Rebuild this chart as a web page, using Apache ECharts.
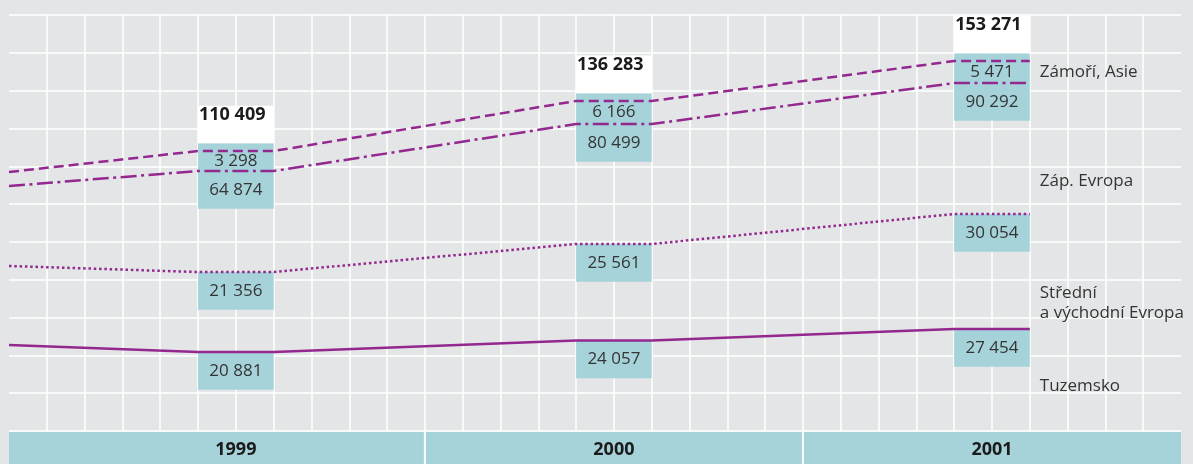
<!DOCTYPE html>
<html><head><meta charset="utf-8">
<script src="https://cdn.jsdelivr.net/npm/echarts@6/dist/echarts.min.js"></script>
<style>html,body{margin:0;padding:0;background:#e4e5e7;} #c{width:1193px;height:464px;}</style>
</head><body><div id="c"></div>
<script>
// ---- data ----
const years = ['1999', '2000', '2001'];
const tuzemsko = [20881, 24057, 27454];
const stredniVychodni = [21356, 25561, 30054];
const zapEvropa = [64874, 80499, 90292];
const zamoriAsie = [3298, 6166, 5471];
const totals = [110409, 136283, 153271];
const seriesNames = ['Zámoří, Asie', 'Záp. Evropa', 'Střední\na východní Evropa', 'Tuzemsko'];
// levels at which the lines are drawn on the chart's schematic vertical scale (mil. Kč),
// read from the picture; first value = where the line enters at the left edge, then 1999, 2000, 2001
const levelTuzemsko = [22740, 20890, 23930, 26970];
const levelStredni = [43630, 42040, 49450, 57380];
const levelZapEvropa = [64780, 68750, 81170, 92010];
const levelZamori = [68480, 74030, 87260, 97830];

// ---- layout / style ----
const PURPLE = '#93288f';
const TEAL = '#a6d3da';
const TXT = '#343434';
const FONT = '"Open Sans", "Noto Sans", sans-serif';
const ROW = 10000;
const colOf = i => 6 + 10 * i;
const fmt = n => String(n).replace(/\B(?=(\d{3})+(?!\d))/g, ' ');

function pts(lv) {
  const out = [[0, lv[0]]];
  years.forEach((y, i) => {
    const c = colOf(i);
    out.push([c - 1, lv[i + 1]], [c + 1, lv[i + 1]]);
  });
  return out;
}

function txt(text, x, y, opt) {
  opt = opt || {};
  return {
    type: 'text',
    style: {
      text: text, x: x, y: y,
      fill: opt.fill || TXT,
      font: (opt.weight || 'normal') + ' ' + (opt.size || 17) + 'px ' + FONT,
      align: opt.align || 'center', textAlign: opt.align || 'center',
      verticalAlign: 'middle', textVerticalAlign: 'middle',
      lineHeight: opt.lineHeight || 20
    }
  };
}

function lineSeries(name, lv, type) {
  return {
    name: name, type: 'line', xAxisIndex: 0, yAxisIndex: 0,
    data: pts(lv), symbol: 'none', z: 5,
    lineStyle: { color: PURPLE, width: 2.5, type: type, cap: 'butt' }
  };
}

const chart = echarts.init(document.getElementById('c'));
chart.setOption({
  animation: false,
  backgroundColor: '#e4e5e7',
  grid: [
    { left: 9, right: 12, top: 15, height: 416 },
    { left: 9, right: 12, top: 432, height: 32 }
  ],
  xAxis: [
    { gridIndex: 0, type: 'value', min: 0, max: 31, interval: 1,
      axisLine: { show: false }, axisTick: { show: false }, axisLabel: { show: false },
      splitLine: { show: true, showMinLine: false, showMaxLine: false, lineStyle: { color: '#ffffff', width: 1.5 } } },
    { gridIndex: 1, type: 'value', min: 0, max: 31, interval: 1,
      axisLine: { show: false }, axisTick: { show: false }, axisLabel: { show: false }, splitLine: { show: false } }
  ],
  yAxis: [
    { gridIndex: 0, type: 'value', min: 0, max: 110000, interval: ROW,
      axisLine: { show: false }, axisTick: { show: false }, axisLabel: { show: false },
      splitLine: { show: true, lineStyle: { color: '#ffffff', width: 1.5 } } },
    { gridIndex: 1, type: 'value', min: 0, max: 1,
      axisLine: { show: false }, axisTick: { show: false }, axisLabel: { show: false }, splitLine: { show: false } }
  ],
  series: [
    {
      type: 'custom', xAxisIndex: 0, yAxisIndex: 0, z: 2,
      data: years.map((y, i) => [i, 0]),
      renderItem: function (params, api) {
        const i = api.value(0);
        const c = colOf(i);
        const L = api.coord([c - 1, 0])[0], R = api.coord([c + 1, 0])[0];
        const w = R - L, cx = (L + R) / 2;
        const Y = v => api.coord([c, v])[1];
        const ch = [];
        const upTopV = levelZamori[i + 1] + 2000;
        const upTop = Y(upTopV), upBot = Y(levelZapEvropa[i + 1] - ROW), whTop = Y(upTopV + ROW);
        ch.push({ type: 'rect', shape: { x: L, y: whTop, width: w, height: upTop - whTop }, style: { fill: '#ffffff' } });
        ch.push({ type: 'rect', shape: { x: L, y: upTop, width: w, height: upBot - upTop }, style: { fill: TEAL } });
        [levelStredni, levelTuzemsko].forEach(lv => {
          const t = Y(lv[i + 1]), b = Y(lv[i + 1] - ROW);
          ch.push({ type: 'rect', shape: { x: L, y: t, width: w, height: b - t }, style: { fill: TEAL } });
        });
        ch.push(txt(fmt(totals[i]), L + 1, whTop + 9, { weight: 'bold', size: 18, align: 'left', fill: '#1b1b1b' }));
        ch.push(txt(fmt(zamoriAsie[i]), cx, (Y(levelZamori[i + 1]) + Y(levelZapEvropa[i + 1])) / 2));
        ch.push(txt(fmt(zapEvropa[i]), cx, (Y(levelZapEvropa[i + 1]) + upBot) / 2));
        ch.push(txt(fmt(stredniVychodni[i]), cx, (Y(levelStredni[i + 1]) + Y(levelStredni[i + 1] - ROW)) / 2));
        ch.push(txt(fmt(tuzemsko[i]), cx, (Y(levelTuzemsko[i + 1]) + Y(levelTuzemsko[i + 1] - ROW)) / 2));
        return { type: 'group', children: ch };
      }
    },
    lineSeries('Tuzemsko', levelTuzemsko, 'solid'),
    lineSeries('Střední a východní Evropa', levelStredni, [2.5, 2.8]),
    lineSeries('Záp. Evropa', levelZapEvropa, [16, 4.5, 3, 4.5]),
    lineSeries('Zámoří, Asie', levelZamori, [10, 5]),
    {
      // series names at the right
      type: 'custom', xAxisIndex: 0, yAxisIndex: 0, z: 6,
      data: [[0, 0]],
      renderItem: function (params, api) {
        const x = api.coord([27, 0])[0] + 10;
        const yAt = v => api.coord([27, v])[1];
        const anchors = [94920, 66100, 33850, 11900];
        return {
          type: 'group',
          children: seriesNames.map((n, k) => txt(n, x, yAt(anchors[k]), { align: 'left', size: 17 }))
        };
      }
    },
    {
      // year band
      type: 'custom', xAxisIndex: 1, yAxisIndex: 1, z: 2,
      data: years.map((y, i) => [i, 0]),
      renderItem: function (params, api) {
        const i = api.value(0);
        const c = colOf(i);
        const a = i === 0 ? 0 : c - 5, b = i === years.length - 1 ? 31 : c + 5;
        const x0 = api.coord([a, 1])[0], x1 = api.coord([b, 1])[0];
        const yT = api.coord([a, 1])[1], yB = api.coord([a, 0])[1];
        const g0 = i === 0 ? 0 : 1, g1 = i === years.length - 1 ? 0 : 1;
        return {
          type: 'group', children: [
            { type: 'rect', shape: { x: x0, y: yT, width: x1 - x0, height: yB - yT }, style: { fill: '#ffffff' } },
            { type: 'rect', shape: { x: x0 + g0, y: yT, width: x1 - x0 - g0 - g1, height: yB - yT }, style: { fill: TEAL } },
            txt(years[i], api.coord([c, 0.5])[0], (yT + yB) / 2 + 2, { weight: 'bold', size: 18, fill: '#1b1b1b' })
          ]
        };
      }
    }
  ]
});
</script>
</body></html>
